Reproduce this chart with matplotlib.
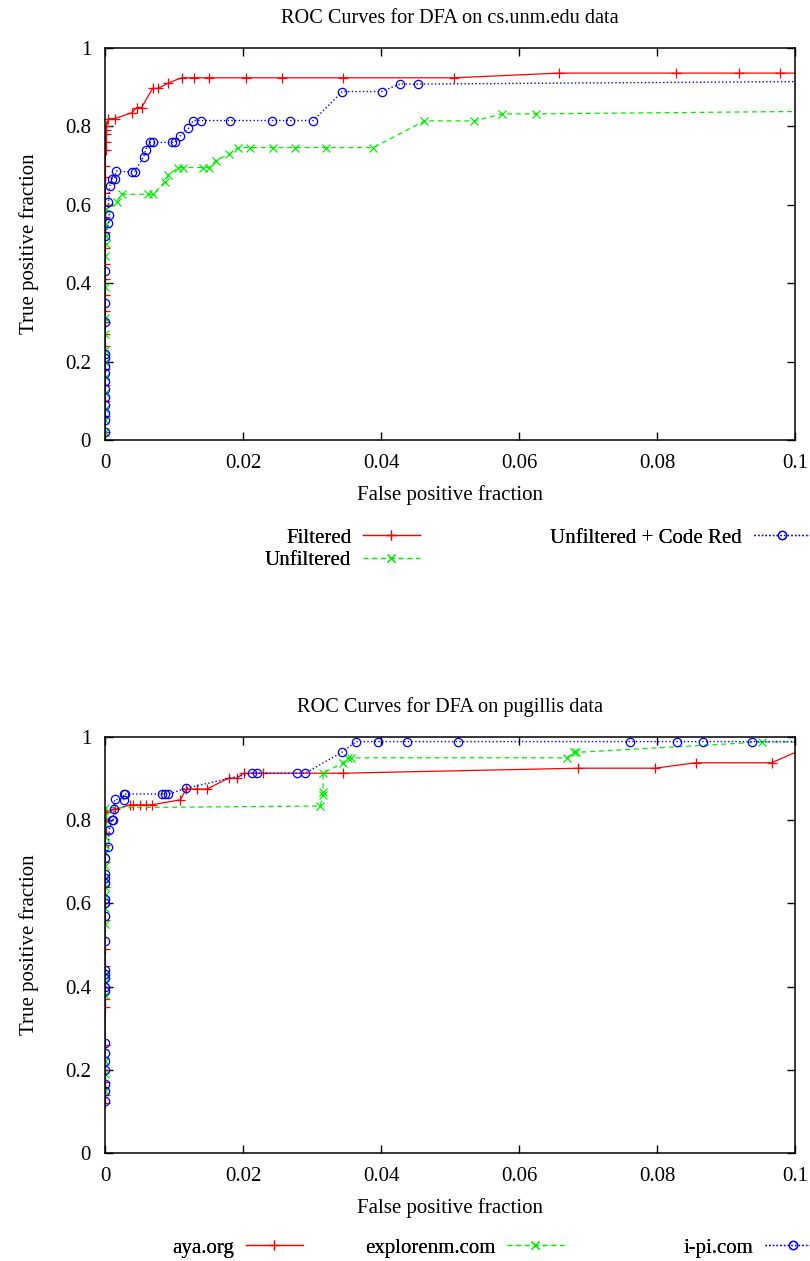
import matplotlib
matplotlib.use("Agg")
import matplotlib.pyplot as plt

plt.rcParams['font.family'] = ['Liberation Serif', 'DejaVu Serif']
plt.rcParams['font.size'] = 15

# ---- top chart: cs.unm.edu ----
filt_x = [0, 0, 0, 0, 0, 0, 0, 0, 0, 0, 0, 0, 0, 0, 0, 0, 0, 0, 0, 0.0001, 0.0001, 0.0001, 0.0002, 0.0002,
          0.0005, 0.00145, 0.0039, 0.0046, 0.0053, 0.0069, 0.0077, 0.0092, 0.0111, 0.0129, 0.0150,
          0.0205, 0.0256, 0.0345, 0.0506, 0.0658, 0.0828, 0.0919, 0.0978, 0.15]
filt_y = [0.02, 0.06, 0.10, 0.14, 0.18, 0.24, 0.27, 0.30, 0.33, 0.37, 0.41, 0.45, 0.49, 0.53, 0.57, 0.60,
          0.63, 0.67, 0.70, 0.74, 0.76, 0.78, 0.79, 0.80,
          0.82, 0.82, 0.835, 0.848, 0.848, 0.897, 0.897, 0.911, 0.924, 0.924, 0.924,
          0.924, 0.924, 0.924, 0.924, 0.936, 0.936, 0.936, 0.936, 0.936]

unf_x = [0, 0, 0, 0, 0, 0, 0, 0, 0, 0, 0, 0.0001, 0.0001, 0.0001, 0.0002,
         0.0017, 0.0024, 0.0063, 0.0070, 0.0087, 0.0092, 0.0106, 0.0113, 0.0142, 0.0150, 0.0161,
         0.0180, 0.0193, 0.0210, 0.0243, 0.0275, 0.0321, 0.0389, 0.0463, 0.0535, 0.0576, 0.0625, 0.15]
unf_y = [0.02, 0.05, 0.08, 0.12, 0.16, 0.20, 0.23, 0.27, 0.31, 0.39, 0.47, 0.50, 0.52, 0.55, 0.59,
         0.608, 0.627, 0.627, 0.627, 0.659, 0.676, 0.695, 0.695, 0.695, 0.695, 0.713,
         0.729, 0.746, 0.746, 0.746, 0.746, 0.746, 0.746, 0.814, 0.814, 0.832, 0.832, 0.846]

cr_x = [0, 0, 0, 0, 0, 0, 0, 0, 0, 0, 0, 0, 0, 0, 0,
        0.0005, 0.0006, 0.0005, 0.0007, 0.0010, 0.0014, 0.0016, 0.0039, 0.0043, 0.0056, 0.0059,
        0.0065, 0.0070, 0.0097, 0.0101, 0.0109, 0.0121, 0.0128, 0.0139, 0.0181, 0.0242, 0.0268,
        0.0302, 0.0344, 0.0401, 0.0427, 0.0454, 0.15]
cr_y = [0.02, 0.05, 0.07, 0.09, 0.11, 0.13, 0.15, 0.17, 0.19, 0.21, 0.22, 0.30, 0.35, 0.43, 0.52,
        0.553, 0.574, 0.608, 0.648, 0.667, 0.667, 0.686, 0.684, 0.684, 0.723, 0.741,
        0.759, 0.759, 0.759, 0.759, 0.776, 0.795, 0.815, 0.815, 0.815, 0.815, 0.815,
        0.815, 0.889, 0.889, 0.908, 0.908, 0.920]

# ---- bottom chart: pugillis ----
aya_x = [0, 0, 0, 0, 0, 0, 0, 0, 0, 0, 0, 0, 0, 0, 0, 0.0001, 0.0001, 0.0002,
         0.00145, 0.0036, 0.0041, 0.0051, 0.0060, 0.0068, 0.0109, 0.0118, 0.0133, 0.0148, 0.0179,
         0.0191, 0.0201, 0.0229, 0.0345, 0.0686, 0.0797, 0.0856, 0.0966, 0.101]
aya_y = [0.12, 0.14, 0.17, 0.20, 0.26, 0.35, 0.37, 0.40, 0.45, 0.49, 0.56, 0.60, 0.64, 0.70, 0.74, 0.77, 0.80, 0.82,
         0.826, 0.837, 0.837, 0.837, 0.837, 0.837, 0.849, 0.875, 0.875, 0.875, 0.901,
         0.901, 0.913, 0.913, 0.913, 0.925, 0.925, 0.938, 0.938, 0.97]

exp_x = [0, 0, 0, 0, 0, 0, 0, 0, 0, 0, 0, 0, 0, 0, 0, 0, 0, 0,
         0.0312, 0.0316, 0.0316, 0.0316, 0.0345, 0.0352, 0.0356, 0.0669, 0.0679, 0.0683, 0.0952, 0.15]
exp_y = [0.15, 0.19, 0.22, 0.38, 0.41, 0.43, 0.55, 0.59, 0.62, 0.64, 0.66, 0.69, 0.72, 0.74, 0.76, 0.79, 0.81, 0.83,
         0.834, 0.861, 0.868, 0.913, 0.938, 0.950, 0.950, 0.950, 0.963, 0.963, 0.988, 0.988]

ipi_x = [0, 0, 0, 0, 0, 0, 0, 0, 0, 0, 0, 0, 0, 0, 0, 0, 0, 0, 0, 0,
         0.0005, 0.0006, 0.0010, 0.0012, 0.0013, 0.0014, 0.0027, 0.0027, 0.0029, 0.0082, 0.0087,
         0.0092, 0.0118, 0.0213, 0.0220, 0.0278, 0.0290, 0.0343, 0.0364, 0.0396, 0.0438, 0.0511,
         0.0761, 0.0829, 0.0867, 0.0937, 0.15]
ipi_y = [0.125, 0.15, 0.165, 0.20, 0.22, 0.24, 0.265, 0.39, 0.40, 0.42, 0.43, 0.44, 0.51, 0.57, 0.60, 0.61,
         0.65, 0.66, 0.67, 0.71,
         0.736, 0.776, 0.80, 0.80, 0.826, 0.85, 0.849, 0.863, 0.863, 0.863, 0.863,
         0.863, 0.877, 0.913, 0.913, 0.913, 0.913, 0.963, 0.989, 0.989, 0.989, 0.989,
         0.989, 0.989, 0.989, 0.989, 0.989]

x_ticks = [0, 0.02, 0.04, 0.06, 0.08, 0.1]
x_labels = ['0', '0.02', '0.04', '0.06', '0.08', '0.1']
y_ticks = [0, 0.2, 0.4, 0.6, 0.8, 1]
y_labels = ['0', '0.2', '0.4', '0.6', '0.8', '1']

RED, GREEN, BLUE = '#ff0000', '#00ee00', '#0000ff'

fig = plt.figure(figsize=(8.1, 12.61), dpi=100)
ax1 = fig.add_axes([105/810, 1-440/1261, 690/810, 392/1261])
ax2 = fig.add_axes([105/810, 1-1153/1261, 690/810, 416/1261])


def style(ax, title):
    ax.set_xlim(0, 0.1)
    ax.set_ylim(0, 1)
    ax.set_xticks(x_ticks, x_labels)
    ax.set_yticks(y_ticks, y_labels)
    ax.tick_params(direction='in', top=True, right=True, length=6, width=1, labelsize=15)
    ax.tick_params(axis='x', pad=10)
    ax.tick_params(axis='y', pad=10)
    for s in ax.spines.values():
        s.set_linewidth(1.1)
    ax.set_title(title, fontsize=14.6, pad=18)
    ax.set_xlabel('False positive fraction', labelpad=9)
    ax.set_ylabel('True positive fraction', labelpad=19)


kw = dict(linewidth=0.9, markersize=7, markeredgewidth=0.9)
l1, = ax1.plot(filt_x, filt_y, '-', color=RED, marker='+', label='Filtered', **kw)
l2, = ax1.plot(unf_x, unf_y, '--', color=GREEN, marker='x', markersize=6, linewidth=0.9,
               markeredgewidth=0.9, dashes=(4, 3), label='Unfiltered')
l3, = ax1.plot(cr_x, cr_y, ':', color=BLUE, marker='o', markerfacecolor='none', markersize=6,
               linewidth=1.0, markeredgewidth=0.9, label='Unfiltered + Code Red')
style(ax1, 'ROC Curves for DFA on cs.unm.edu data')

m1, = ax2.plot(aya_x, aya_y, '-', color=RED, marker='+', label='aya.org', **kw)
m2, = ax2.plot(exp_x, exp_y, '--', color=GREEN, marker='x', markersize=6, linewidth=0.9,
               markeredgewidth=0.9, dashes=(4, 3), label='explorenm.com')
m3, = ax2.plot(ipi_x, ipi_y, ':', color=BLUE, marker='o', markerfacecolor='none', markersize=6,
               linewidth=1.0, markeredgewidth=0.9, label='i-pi.com')
style(ax2, 'ROC Curves for DFA on pugillis data')

leg_kw = dict(frameon=False, markerfirst=False, borderpad=0, borderaxespad=0,
              handlelength=2.75, handletextpad=0.55, labelspacing=0.15, numpoints=1, fontsize=15)


def put(handles, xr, ytop):
    lg = fig.legend(handles=handles, loc='upper right', bbox_to_anchor=(xr/810, 1-ytop/1261), **leg_kw)
    fig.add_artist(lg)


put([l1, l2], 420, 528)
put([l3], 811, 528)
put([m1], 303, 1238)
put([m2], 564, 1238)
put([m3], 822, 1238)

fig.savefig('out.png', dpi=100)
